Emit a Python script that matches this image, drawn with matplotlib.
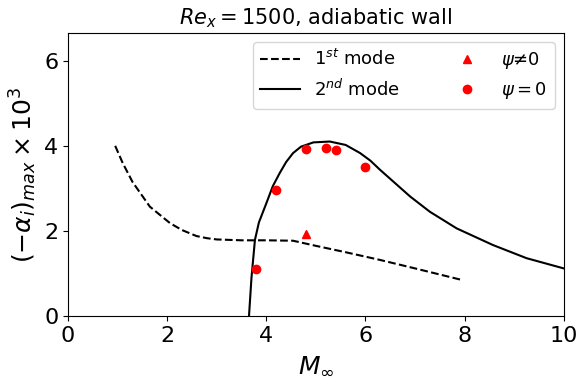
import matplotlib.pyplot as plt
import numpy as np

# 1st mode (dashed)
m1_x = [0.95, 1.1, 1.3, 1.65, 2.06, 2.3, 2.59, 2.8, 3.0, 3.5, 4.0, 4.54, 5.0, 5.6, 6.29, 7.0, 7.94]
m1_y = [4.0, 3.6, 3.15, 2.57, 2.18, 2.02, 1.88, 1.83, 1.8, 1.78, 1.78, 1.77, 1.65, 1.5, 1.32, 1.12, 0.85]

# 2nd mode (solid)
m2_x = [3.65, 3.7, 3.77, 3.85, 4.0, 4.13, 4.27, 4.4, 4.54, 4.7, 4.95, 5.28, 5.6, 5.89,
        6.1, 6.29, 6.6, 6.9, 7.3, 7.84, 8.57, 9.25, 10.0]
m2_y = [0.0, 0.9, 1.79, 2.2, 2.65, 3.05, 3.36, 3.62, 3.83, 3.98, 4.08, 4.1, 4.02, 3.83,
        3.65, 3.44, 3.12, 2.81, 2.45, 2.06, 1.67, 1.36, 1.12]

# computed points
tri_x = [4.8]
tri_y = [1.92]
circ_x = [3.8, 4.2, 4.8, 5.2, 5.4, 6.0]
circ_y = [1.1, 2.95, 3.92, 3.94, 3.89, 3.5]

fig, ax = plt.subplots(figsize=(5.77, 3.79), dpi=100)
ax.plot(m1_x, m1_y, 'k--', lw=1.5, label=r'1$^{st}$ mode')
ax.plot(m2_x, m2_y, 'k-', lw=1.5, label=r'2$^{nd}$ mode')
ax.plot(tri_x, tri_y, 'r^', ms=6, ls='none', label=r'$\psi$≠0')
ax.plot(circ_x, circ_y, 'ro', ms=6, ls='none', label=r'$\psi=0$')

ax.set_xlim(0, 10)
ax.set_ylim(0, 6.65)
ax.set_xticks([0, 2, 4, 6, 8, 10])
ax.set_yticks([0, 2, 4, 6])
ax.tick_params(labelsize=16)
ax.set_xlabel(r'$M_\infty$', fontsize=18, labelpad=6)
ax.set_ylabel(r'$(-\alpha_i)_{max}\times10^3$', fontsize=18)
ax.set_title(r'$Re_x=1500$, adiabatic wall', fontsize=15)
ax.legend(ncol=2, fontsize=13, loc='upper right', columnspacing=2.6, handlelength=2.2)

fig.subplots_adjust(left=0.118, right=0.977, top=0.913, bottom=0.166)
fig.savefig('out.png')
